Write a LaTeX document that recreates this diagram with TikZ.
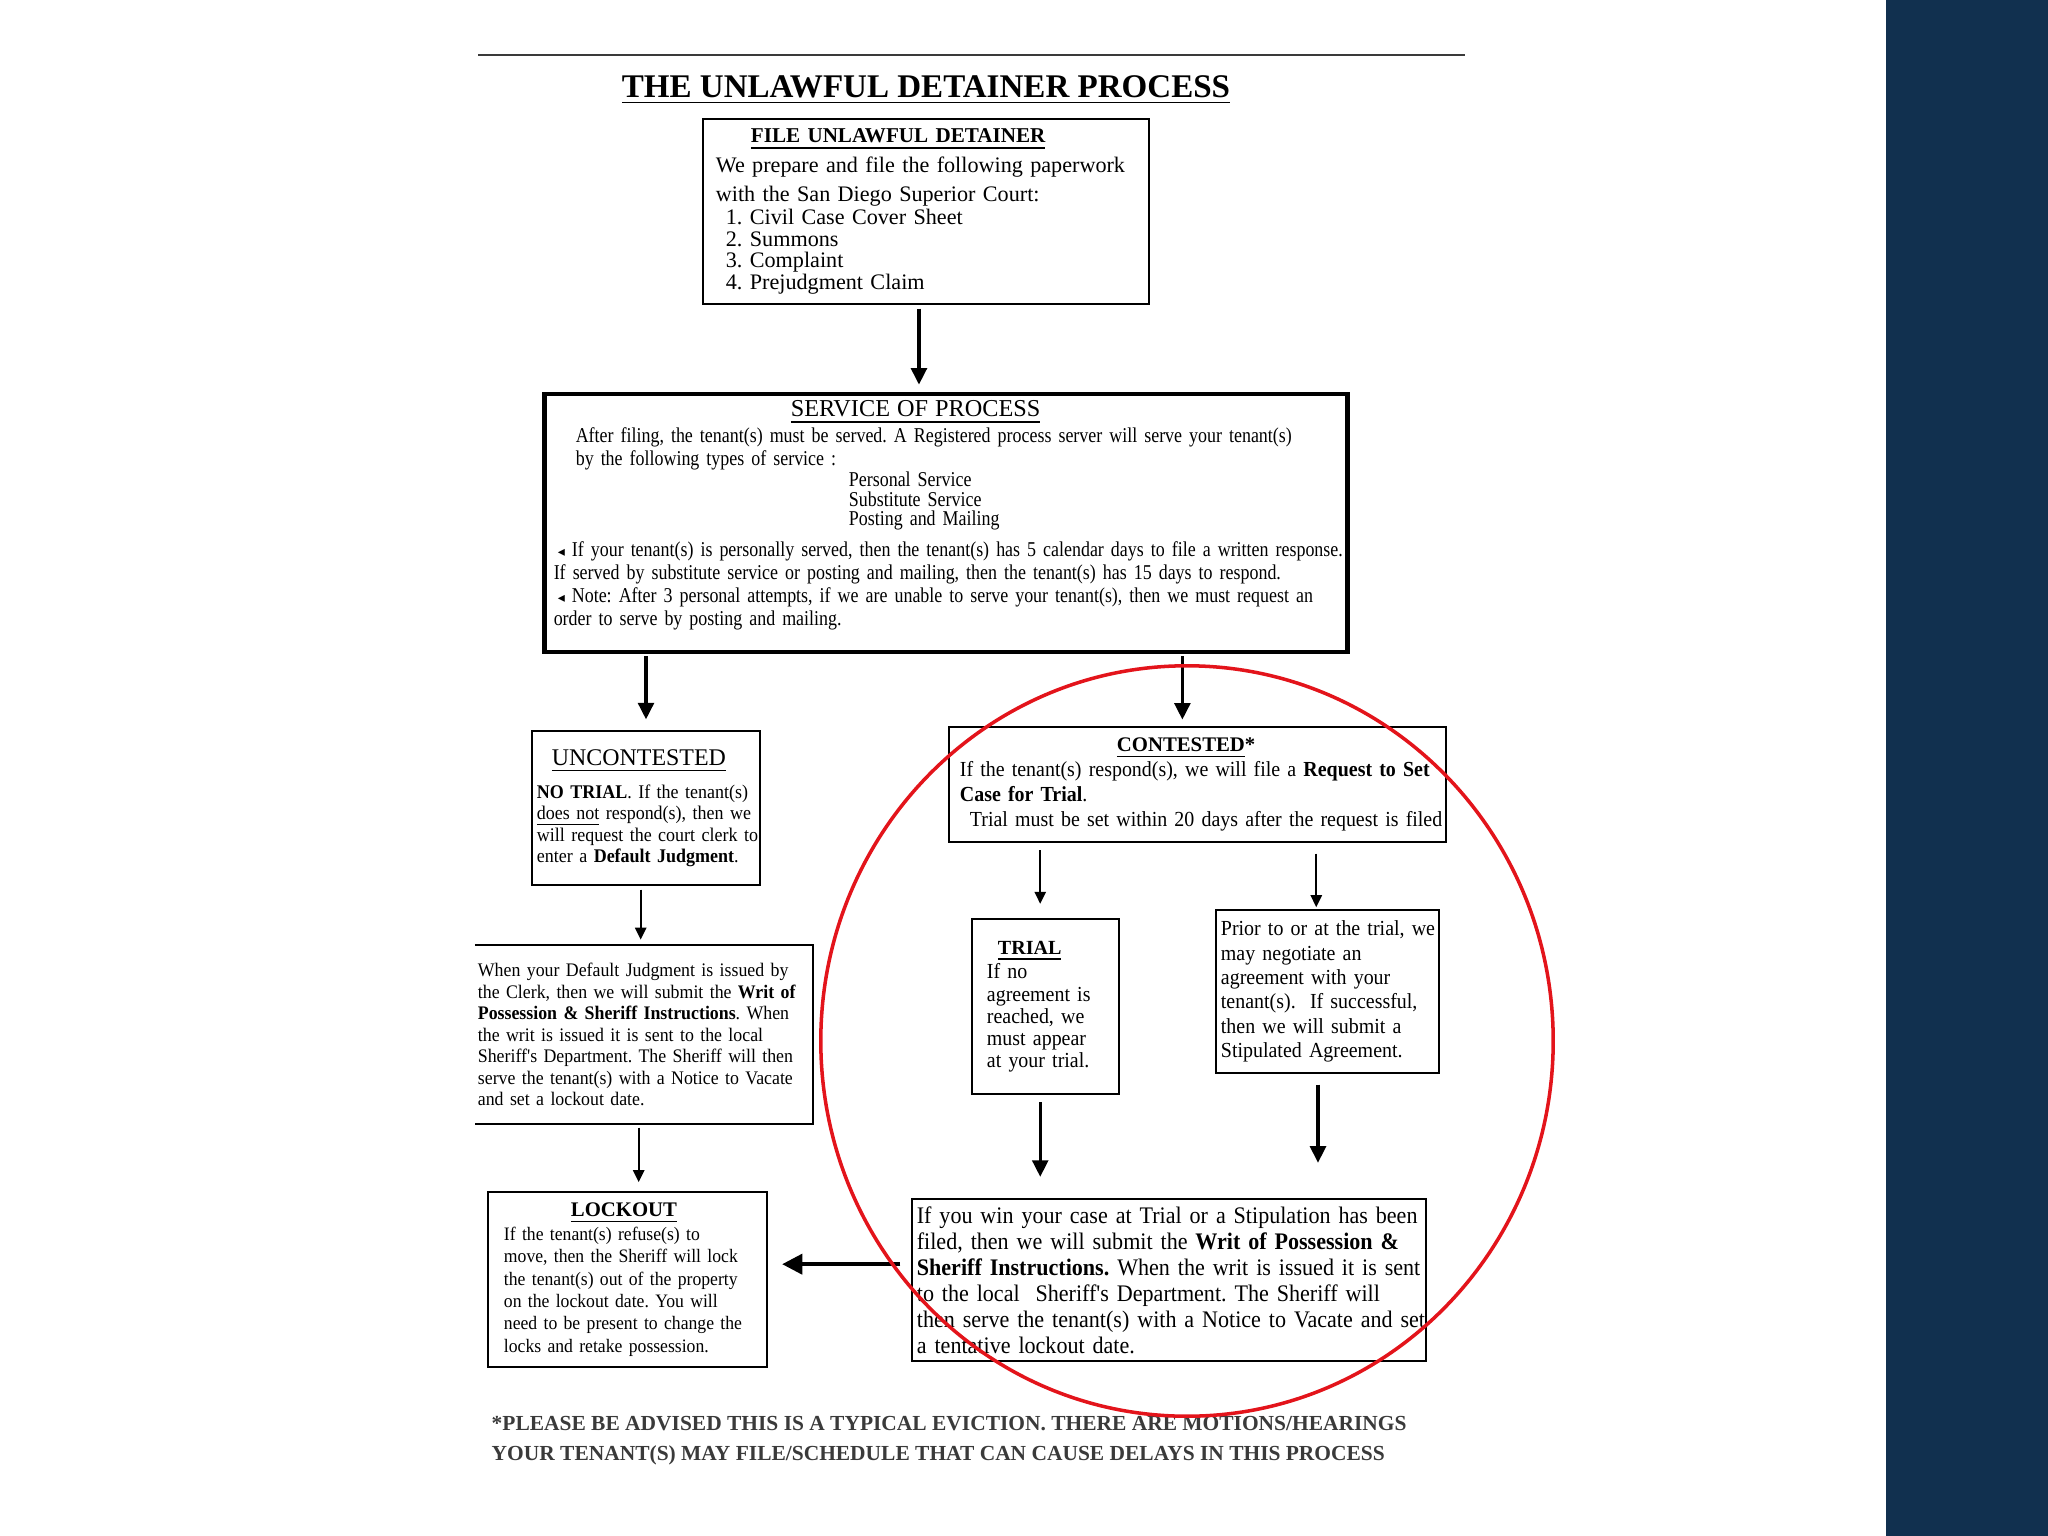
\documentclass[tikz,border=0pt]{standalone}
\usepackage{fontspec}
\setmainfont{Liberation Serif}
\newfontfamily\UDbody{Liberation Serif}[FakeStretch=0.93]
\newfontfamily\UDcond{Liberation Serif}[FakeStretch=0.85]
\newfontfamily\UDsym{DejaVu Sans}
\usetikzlibrary{arrows.meta}
\frenchspacing
\hyphenpenalty=10000
\exhyphenpenalty=10000
\definecolor{UDnavy}{HTML}{11304F}
\definecolor{UDred}{HTML}{E3141B}
\definecolor{UDgray}{HTML}{3A3A3A}
\tikzset{UDbox/.style={draw,line width=0.6pt,align=left,inner xsep=0pt,inner ysep=0pt},
         UDopen/.style={UDbox,draw=none},
         UDarr/.style={-{Triangle[length=3.4pt,width=3.2pt]},line width=0.55pt},
         UDarrb/.style={-{Triangle[length=4.7pt,width=4.5pt]},line width=0.9pt}}
\newcommand{\UDjl}[1]{\makebox[\linewidth][s]{#1}\\}
\newcommand{\UDtri}{{\UDsym\fontsize{4}{4}\selectfont ◂}}

\begin{document}
\begin{tikzpicture}[x=0.01cm,y=-0.01cm]
  \useasboundingbox (0,0) rectangle (2048,1536);
  \fill[UDnavy] (1886,0) rectangle (2048,1536);
  % heading
  \draw[UDgray,line width=0.7pt] (478,55) -- (1465,55);
  \node[font=\bfseries\fontsize{9.4}{11}\selectfont] (title) at (926,90) {\underline{THE UNLAWFUL DETAINER PROCESS}};
  % filing and service
  \node[UDbox,minimum width=4.46cm,minimum height=1.85cm,text width=4.46cm,font=\fontsize{6.3}{6.1}\selectfont] (file) at (926,211.5)
     {\leftskip=0.13cm\relax
      \hspace*{0.35cm}{\bfseries\fontsize{6}{6}\selectfont\underline{FILE UNLAWFUL DETAINER}}\\[0.8pt]
      We prepare and file the following paperwork\\[2.3pt]
      with the San Diego Superior Court:\\[0.5pt]
      \hspace*{0.1cm}1. Civil Case Cover Sheet\\
      \hspace*{0.1cm}2. Summons\\
      \hspace*{0.1cm}3. Complaint\\
      \hspace*{0.1cm}4. Prejudgment Claim\par};
  \node[UDbox,line width=1.3pt,minimum width=8.02cm,minimum height=2.58cm,text width=8.02cm,font=\UDcond\fontsize{6}{6.5}\selectfont] (serv) at (946,523)
     {\leftskip=0.09cm\relax
      \hspace*{2.37cm}{\normalfont\fontsize{6.9}{7}\selectfont\underline{SERVICE OF PROCESS}}\\[0.9pt]
      \hspace*{0.22cm}After filing, the tenant(s) must be served. A Registered process server will serve your tenant(s)\\
      \hspace*{0.22cm}by the following types of service :\\[-0.5pt]
      \hspace*{2.95cm}Personal Service\\[-0.8pt]
      \hspace*{2.95cm}Substitute Service\\[-1.1pt]
      \hspace*{2.95cm}Posting and Mailing\\[2.3pt]
      \hspace*{0.04cm}\UDtri{} If your tenant(s) is personally served, then the tenant(s) has 5 calendar days to file a written response.\\
      If served by substitute service or posting and mailing, then the tenant(s) has 15 days to respond.\\
      \hspace*{0.04cm}\UDtri{} Note: After 3 personal attempts, if we are unable to serve your tenant(s), then we must request an\\
      order to serve by posting and mailing.\rule[-5.7pt]{0pt}{0pt}\par};
  % uncontested branch
  \node[UDbox,minimum width=2.28cm,minimum height=1.54cm,text width=2.28cm,font=\UDbody\fontsize{5.5}{6.1}\selectfont] (unc) at (646,808)
     {\leftskip=0.05cm\relax\rightskip=-0.15cm plus 1fil\relax
      \hspace*{0.15cm}{\normalfont\fontsize{6.8}{7}\selectfont\underline{UNCONTESTED}}\\[3.3pt]
      \textbf{NO TRIAL}. If the tenant(s)\\
      \underline{does not} respond(s), then we\\
      will request the court clerk to\\
      enter a \textbf{Default Judgment}.\par};
  \node[UDopen,minimum width=3.36cm,minimum height=1.77cm,text width=3.32cm,font=\UDbody\fontsize{5.45}{6.1}\selectfont] (dflt) at (644,1034.5)
     {\UDjl{When your Default Judgment is issued by}
      \UDjl{the Clerk, then we will submit the \textbf{Writ of}}
      \UDjl{\textbf{Possession \& Sheriff Instructions}. When}
      \UDjl{the writ is issued it is sent to the local}
      \UDjl{Sheriff's Department. The Sheriff will then}
      \UDjl{serve the tenant(s) with a Notice to Vacate}
      and set a lockout date.};
  \draw[line width=0.6pt] (dflt.north west) -- (dflt.north east) -- (dflt.south east) -- (dflt.south west);
  \node[UDbox,minimum width=2.79cm,minimum height=1.75cm,text width=2.79cm,font=\UDbody\fontsize{5.4}{6.35}\selectfont] (lock) at (627.5,1279.5)
     {\leftskip=0.16cm\relax
      \hspace*{0.67cm}{\normalfont\bfseries\fontsize{5.9}{6}\selectfont\underline{LOCKOUT}}\\[0.5pt]
      If the tenant(s) refuse(s) to\\
      move, then the Sheriff will lock\\
      the tenant(s) out of the property\\
      on the lockout date. You will\\
      need to be present to change the\\
      locks and retake possession.\par};
  % contested branch
  \node[UDbox,minimum width=4.97cm,minimum height=1.15cm,text width=4.97cm,font=\UDbody\fontsize{6.1}{7.1}\selectfont] (cont) at (1197.5,784.5)
     {\leftskip=0.11cm\relax
      \hspace*{1.57cm}{\normalfont\bfseries\fontsize{5.9}{6}\selectfont\underline{CONTESTED}*}\\
      If the tenant(s) respond(s), we will file a \textbf{Request to Set}\\
      \textbf{Case for Trial}.\\
      \hspace*{0.1cm}Trial must be set within 20 days after the request is filed\par};
  \node[UDbox,minimum width=1.47cm,minimum height=1.75cm,text width=1.47cm,font=\UDbody\fontsize{6.1}{6.3}\selectfont] (trial) at (1045.5,1006.5)
     {\leftskip=0.15cm\relax
      \hspace*{0.11cm}{\normalfont\bfseries\fontsize{5.7}{6}\selectfont\underline{TRIAL}}\\[0.8pt]
      If no\\ agreement is\\ reached, we\\ must appear\\ at your trial.\par};
  \node[UDbox,minimum width=2.23cm,minimum height=1.63cm,text width=2.23cm,font=\UDbody\fontsize{6.1}{6.9}\selectfont] (prior) at (1327.5,991.5)
     {\leftskip=0.05cm\relax
      Prior to or at the trial, we\\ may negotiate an\\ agreement with your\\ tenant(s).\ \ If successful,\\ then we will submit a\\ Stipulated Agreement.\par};
  \node[UDbox,minimum width=5.14cm,minimum height=1.62cm,text width=5.04cm,font=\UDbody\fontsize{6.75}{7.4}\selectfont] (win) at (1169,1280)
     {\UDjl{If you win your case at Trial or a Stipulation has been}
      \UDjl{filed,\ then we will submit the \textbf{Writ of Possession \&}}
      \UDjl{\textbf{Sheriff Instructions.} When the writ is issued it is sent}
      \UDjl{to the local\ \ Sheriff's Department. The Sheriff will}
      \UDjl{then serve the tenant(s) with a Notice to Vacate and set}
      a tentative lockout date.};
  % footnote
  \node[anchor=west,align=left,text=UDgray,inner sep=0pt,font=\bfseries\fontsize{6.1}{8.5}\selectfont] (note) at (491,1441)
     {*PLEASE BE ADVISED THIS IS A TYPICAL EVICTION. THERE ARE MOTIONS/HEARINGS\\
      YOUR TENANT(S) MAY FILE/SCHEDULE THAT CAN CAUSE DELAYS IN THIS PROCESS};
  % arrows
  \draw[UDarrb,shorten <=1pt,shorten >=2pt] ([xshift=-2pt]file.south) -- ([xshift=-2pt]file.south |- serv.north);
  \draw[UDarrb,shorten <=0.5pt,shorten >=3pt] (serv.south -| unc.north) -- (unc.north);
  \draw[UDarrb,shorten <=0.5pt,shorten >=1.8pt] ([xshift=-4.3pt]serv.south -| cont.north) -- ([xshift=-4.3pt]cont.north);
  \draw[UDarr,shorten <=1pt,shorten >=1.5pt] ([xshift=-1.5pt]unc.south) -- ([xshift=-1.5pt]unc.south |- dflt.north);
  \draw[UDarr,shorten <=1pt,shorten >=2.5pt] ([xshift=-1.5pt]dflt.south) -- ([xshift=-1.5pt]dflt.south |- lock.north);
  \draw[UDarr,shorten <=2pt,shorten >=4pt] ([xshift=-1.5pt]trial.north |- cont.south) -- ([xshift=-1.5pt]trial.north);
  \draw[UDarr,shorten <=3pt,shorten >=0.5pt] ([xshift=-3.2pt]prior.north |- cont.south) -- ([xshift=-3.2pt]prior.north);
  \draw[UDarrb,shorten <=2pt,shorten >=6pt] ([xshift=-1.5pt]trial.south) -- ([xshift=-1.5pt]trial.south |- win.north);
  \draw[UDarrb,shorten <=3pt,shorten >=10pt] ([xshift=-2.7pt]prior.south) -- ([xshift=-2.7pt]prior.south |- win.north);
  \draw[-{Triangle[length=5.7pt,width=5.7pt]},line width=1pt,shorten <=3pt,shorten >=4pt] ([yshift=4.5pt]win.west) -- ([yshift=4.5pt]win.west -| lock.east);
  % highlight
  \draw[UDred,line width=1pt] (1187,1041) ellipse [x radius=3.66cm,y radius=3.75cm];
\end{tikzpicture}
\end{document}
